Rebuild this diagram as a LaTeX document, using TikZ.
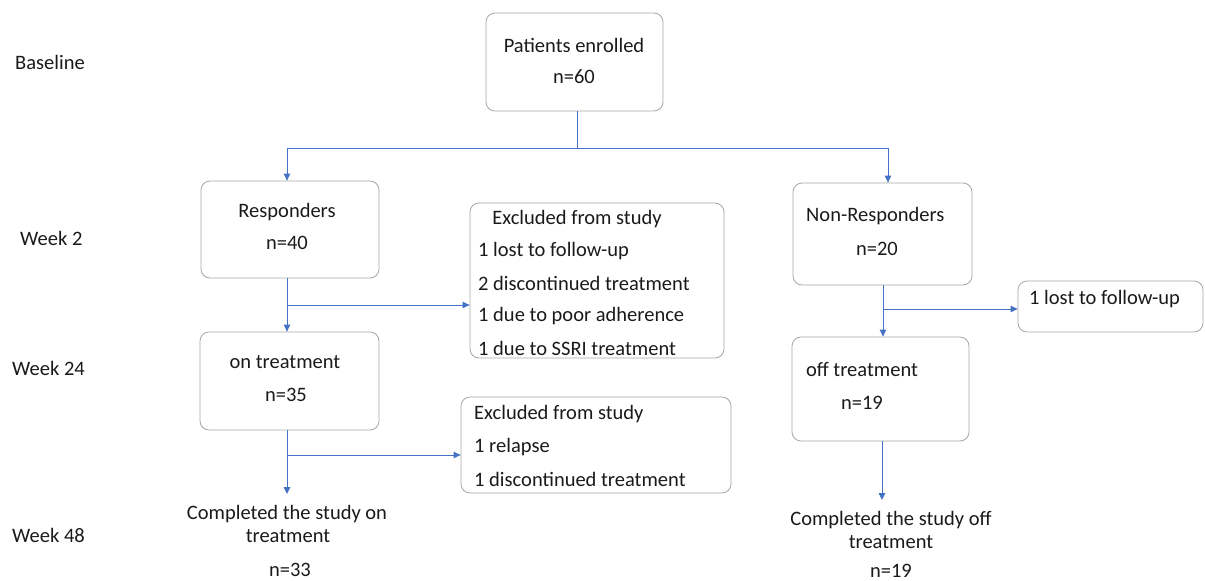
\documentclass[tikz,border=0pt]{standalone}
\usepackage{fontspec}
\setmainfont{Carlito}
\usetikzlibrary{arrows.meta}
\definecolor{linec}{HTML}{4472C4}
\definecolor{boxc}{HTML}{A6A6A6}
\definecolor{txtc}{HTML}{1A1A1A}
\begin{document}
\begin{tikzpicture}[x=1pt,y=-1pt,
  box/.style={draw=boxc, line width=0.8pt, rounded corners=9pt, inner sep=0pt},
  txt/.style={text=txtc, font=\fontsize{20.5}{24}\selectfont, inner sep=0pt},
  arr/.style={draw=linec, line width=0.9pt, -{Triangle[length=7pt,width=6.5pt]}},
  ln/.style={draw=linec, line width=0.9pt}]
\useasboundingbox (0,0) rectangle (1205,581);
% row labels
\node[txt, anchor=west] (lb0) at (15,62) {Baseline};
\node[txt, anchor=west] (lb1) at (20,238) {Week 2};
\node[txt, anchor=west] (lb2) at (12,368) {Week 24};
\node[txt, anchor=west] (lb3) at (12,535) {Week 48};
% boxes
\node[box, minimum width=177pt, minimum height=98pt] (pe) at (574.5,62) {};
\node[box, minimum width=178pt, minimum height=97pt] (resp) at (290,229.5) {};
\node[box, minimum width=179pt, minimum height=102pt] (nonr) at (882.5,234) {};
\node[box, minimum width=254pt, minimum height=155pt] (ex1) at (597,280.5) {};
\node[box, minimum width=185pt, minimum height=51pt] (lost) at (1110.5,306.5) {};
\node[box, minimum width=179pt, minimum height=98pt] (ont) at (289.5,381) {};
\node[box, minimum width=177pt, minimum height=104pt] (offt) at (880.5,389) {};
\node[box, minimum width=270pt, minimum height=96pt] (ex2) at (596,445) {};
% texts in boxes
\node[txt] (pe1) at (574,45) {Patients enrolled};
\node[txt] (pe2) at (574,77) {n=60};
\node[txt] (re1) at (287,212) {Responders};
\node[txt] (re2) at (287,243) {n=40};
\node[txt, anchor=west] (nr1) at (806,216) {Non-Responders};
\node[txt] (nr2) at (877,249) {n=20};
\node[txt] (e11) at (577,219) {Excluded from study};
\node[txt, anchor=west] (e12) at (478,251) {1 lost to follow-up};
\node[txt, anchor=west] (e13) at (478,283) {2 discontinued treatment};
\node[txt, anchor=west] (e14) at (478,316) {1 due to poor adherence};
\node[txt, anchor=west] (e15) at (478,348) {1 due to SSRI treatment};
\node[txt, anchor=west] (lo1) at (1029,299) {1 lost to follow-up};
\node[txt] (on1) at (285,362) {on treatment};
\node[txt] (on2) at (286,395) {n=35};
\node[txt] (of1) at (862,369) {off treatment};
\node[txt] (of2) at (862,403) {n=19};
\node[txt, anchor=west] (e21) at (474,414) {Excluded from study};
\node[txt, anchor=west] (e22) at (474,447) {1 relapse};
\node[txt, anchor=west] (e23) at (474,479) {1 discontinued treatment};
\node[txt] (c11) at (287,514) {Completed the study on};
\node[txt] (c12) at (288,536) {treatment};
\node[txt] (c13) at (290,570) {n=33};
\node[txt] (c21) at (891,520) {Completed the study off};
\node[txt] (c22) at (891,542) {treatment};
\node[txt] (c23) at (891,571) {n=19};
% connectors
\coordinate (j0) at (577,148);
\coordinate (jr) at (287,148);
\coordinate (jn) at (888,148);
\draw[ln] (pe.south -| j0) -- (j0);
\draw[ln] (jr) -- (jn);
\draw[arr] (jr) -- (jr |- resp.north);
\draw[arr] (jn) -- (jn |- nonr.north);
\coordinate (b1) at (287,305);
\draw[arr] (b1 |- resp.south) -- (b1 |- ont.north);
\draw[arr] (b1) -- (b1 -| ex1.west);
\coordinate (b2) at (287,455);
\coordinate (cmp1) at (287,494);
\draw[arr] (b2 |- ont.south) -- (cmp1);
\draw[arr] (b2) -- (b2 -| ex2.west);
\coordinate (b3) at (883,309);
\draw[arr] (b3 |- nonr.south) -- (b3 |- offt.north);
\draw[arr] (b3) -- (b3 -| lost.west);
\coordinate (cmp2) at (882,500);
\draw[arr] (cmp2 |- offt.south) -- (cmp2);
\end{tikzpicture}
\end{document}
